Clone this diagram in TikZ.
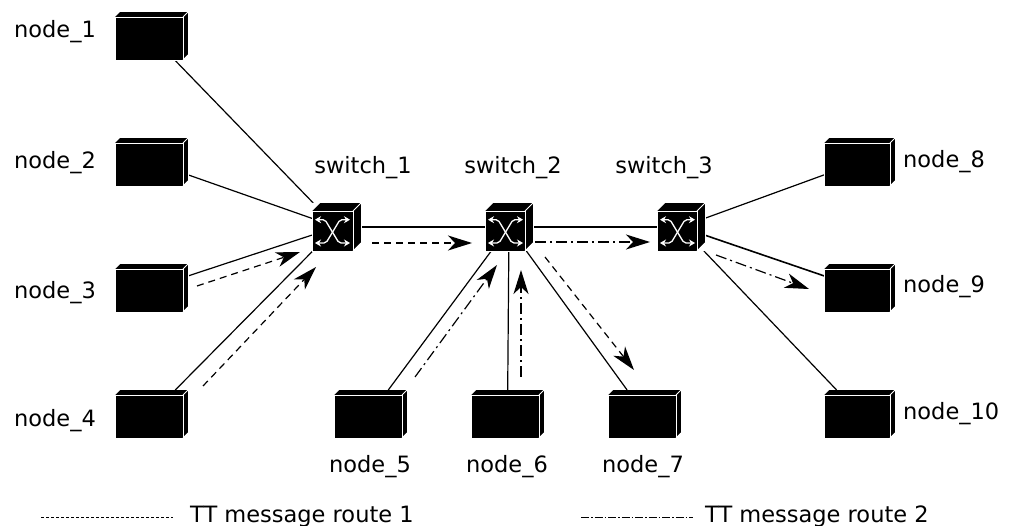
\documentclass[tikz,border=0pt]{standalone}
\usepackage{fontspec}
\setmainfont{DejaVu Sans}
\usetikzlibrary{arrows.meta}
\pgfdeclarelayer{bg}
\pgfsetlayers{bg,main}
\tikzset{
  x=1pt,y=-1pt,
  devbody/.style={fill=black,draw=none,inner sep=0pt,outer sep=0pt,anchor=north west},
  edgeline/.style={draw=white,line width=0.9pt},
  link/.style={draw=black,line width=1.2pt},
  route1/.style={draw=black,line width=1.2pt,dash pattern=on 7pt off 5pt,-{Stealth[length=24pt,width=15pt,inset=7pt]}},
  route2/.style={draw=black,line width=1.2pt,dash pattern=on 11pt off 4pt on 2pt off 4pt,-{Stealth[length=24pt,width=15pt,inset=7pt]}},
  legend1/.style={draw=black,line width=0.8pt,dash pattern=on 3pt off 2pt},
  legend2/.style={draw=black,line width=0.8pt,dash pattern=on 8pt off 2pt on 1.5pt off 2pt},
  lbl/.style={font=\fontsize{22.5}{26}\selectfont,inner sep=0pt},
  swarrow/.style={draw=white,line width=1.3pt,rounded corners=2pt,{Stealth[length=6pt,width=7pt]}-{Stealth[length=6pt,width=7pt]}},
}
% name, left, top(back), front width, front height, depth
\newcommand{\devbox}[6]{%
  \node[devbody,minimum width=#4+#6,minimum height=#5+#6] (#1) at (#2,#3) {};
  \begin{scope}[shift={(#2,#3)}]
    \fill[white] (0,0) -- (#6,0) -- (0,#6) -- cycle;
    \fill[white] (#4+#6,#5+#6) -- (#4+#6,#5) -- (#4,#5+#6) -- cycle;
    \draw[edgeline] (0,#6) rectangle (#4,#5+#6);
    \draw[edgeline] (#4,#6) -- (#4+#6,0);
    \draw[edgeline] (#4+#6,0) -- (#4+#6,#5);
    \draw[edgeline] (#4+#6,#5) -- (#4,#5+#6);
  \end{scope}
}
\newcommand{\swicon}[2]{%
  \begin{scope}[shift={(#1,#2)}]
    \draw[swarrow] (3,8.7) -- (13,8.7) -- (27,32) -- (38,32);
    \draw[swarrow] (38,8.7) -- (28,8.7) -- (14,32) -- (3,32);
  \end{scope}
}
\begin{document}
\begin{tikzpicture}
\useasboundingbox (0,0) rectangle (1009,526);
% end devices
\devbox{n1}{115}{12}{68}{43}{5}
\devbox{n2}{115}{138}{68}{43}{5}
\devbox{n3}{115}{264}{68}{43}{5}
\devbox{n4}{115}{390}{68}{43}{5}
\devbox{n5}{334}{390}{68}{43}{5}
\devbox{n6}{471}{390}{68}{43}{5}
\devbox{n7}{608}{390}{68}{43}{5}
\devbox{n8}{824}{138}{66}{43}{5}
\devbox{n9}{824}{264}{66}{43}{5}
\devbox{n10}{824}{390}{66}{43}{5}
% switches
\devbox{s1}{312}{203}{41}{40}{8}
\devbox{s2}{485}{203}{40}{40}{8}
\devbox{s3}{657}{203}{40}{40}{8}
\swicon{312}{211}
\swicon{485}{211}
\swicon{657}{211}
% links
\begin{pgfonlayer}{bg}
  \draw[link] (n1) -- (s1);
  \draw[link] (n2) -- (s1);
  \draw[link] (n3) -- (s1);
  \draw[link] (n4) -- (s1);
  \draw[link] (s1) -- (s2);
  \draw[link] (s2) -- (s3);
  \draw[link] (n5) -- (s2);
  \draw[link] (n6) -- (s2);
  \draw[link] (n7) -- (s2);
  \draw[link] (s3) -- (n8);
  \draw[link,line width=1.6pt] (s3) -- (n9);
  \draw[link] (s3) -- (n10);
\end{pgfonlayer}
% route arrows
\coordinate (a1s) at (197,286); \coordinate (a1e) at (300,252);
\coordinate (a2s) at (203,386); \coordinate (a2e) at (316,267);
\coordinate (a3s) at (372,243); \coordinate (a3e) at (472,243);
\coordinate (a4s) at (545,257); \coordinate (a4e) at (634,370);
\coordinate (b1s) at (415,377); \coordinate (b1e) at (497,265);
\coordinate (b2s) at (521,377); \coordinate (b2e) at (521,270);
\coordinate (b3s) at (535,242); \coordinate (b3e) at (650,242);
\coordinate (b4s) at (716,255); \coordinate (b4e) at (809,289);
\draw[route1] (a1s) -- (a1e);
\draw[route1] (a2s) -- (a2e);
\draw[route1] (a3s) -- (a3e);
\draw[route1] (a4s) -- (a4e);
\draw[route2] (b1s) -- (b1e);
\draw[route2] (b2s) -- (b2e);
\draw[route2] (b3s) -- (b3e);
\draw[route2] (b4s) -- (b4e);
% labels
\node[lbl] (l1) at (55,32) {node\_1};
\node[lbl] (l2) at (55,163) {node\_2};
\node[lbl] (l3) at (55,293) {node\_3};
\node[lbl] (l4) at (55,421) {node\_4};
\node[lbl] (l5) at (370,467) {node\_5};
\node[lbl] (l6) at (507,467) {node\_6};
\node[lbl] (l7) at (643,467) {node\_7};
\node[lbl,anchor=west] (l8) at (903,162) {node\_8};
\node[lbl,anchor=west] (l9) at (903,287) {node\_9};
\node[lbl,anchor=west] (l10) at (903,414) {node\_10};
\node[lbl] (sl1) at (363,168) {switch\_1};
\node[lbl] (sl2) at (513,168) {switch\_2};
\node[lbl] (sl3) at (664,168) {switch\_3};
% legend
\coordinate (k1a) at (41,517); \coordinate (k1b) at (173,517);
\coordinate (k2a) at (581,517); \coordinate (k2b) at (693,517);
\draw[legend1] (k1a) -- (k1b);
\draw[legend2] (k2a) -- (k2b);
\node[lbl,anchor=base west] (t1) at (190,522) {TT message route 1};
\node[lbl,anchor=base west] (t2) at (705,522) {TT message route 2};
\end{tikzpicture}
\end{document}
